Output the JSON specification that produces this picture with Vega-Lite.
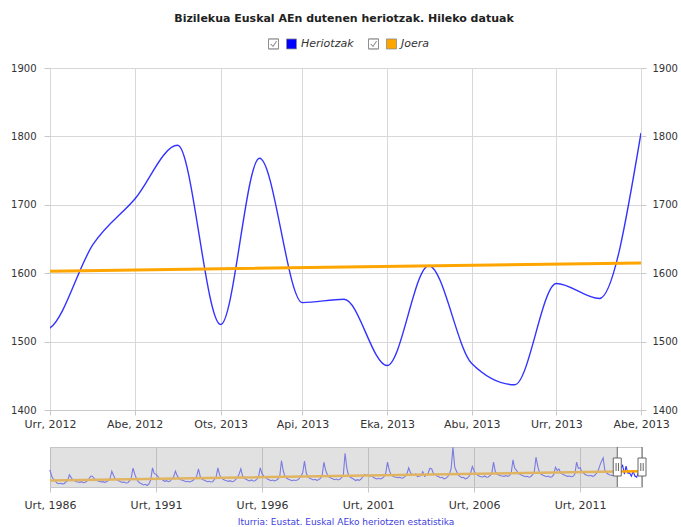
{
  "$schema": "https://vega.github.io/schema/vega-lite/v6.json",
  "padding": {"left": 10, "right": 4, "top": 13, "bottom": 2},
  "background": "white",
  "config": {
    "font": "DejaVu Sans",
    "view": {"stroke": null},
    "axis": {"labelFont": "DejaVu Sans", "labelFontSize": 11, "labelColor": "#333", "gridColor": "#d8d8d8", "domainColor": "#c8c8c8", "tickColor": "#c8c8c8", "title": null},
    "legend": {"layout": {"anchor": "middle"}},
    "concat": {"spacing": 15}
  },
  "title": {"text": "Bizilekua Euskal AEn dutenen heriotzak. Hileko datuak", "font": "DejaVu Sans", "fontSize": 11, "fontWeight": "bold", "color": "#222", "anchor": "middle", "offset": 14},
  "datasets": {
    "d": [
      {"t":"1986-01","v":1654},{"t":"1986-02","v":1450},{"t":"1986-03","v":1380},{"t":"1986-04","v":1320},{"t":"1986-05","v":1260},{"t":"1986-06","v":1240},{"t":"1986-07","v":1250},{"t":"1986-08","v":1234},{"t":"1986-09","v":1240},{"t":"1986-10","v":1290},{"t":"1986-11","v":1330},{"t":"1986-12","v":1504},
      {"t":"1987-01","v":1420},{"t":"1987-02","v":1340},{"t":"1987-03","v":1330},{"t":"1987-04","v":1300},{"t":"1987-05","v":1290},{"t":"1987-06","v":1280},{"t":"1987-07","v":1300},{"t":"1987-08","v":1270},{"t":"1987-09","v":1280},{"t":"1987-10","v":1320},{"t":"1987-11","v":1380},{"t":"1987-12","v":1464},
      {"t":"1988-01","v":1464},{"t":"1988-02","v":1400},{"t":"1988-03","v":1350},{"t":"1988-04","v":1320},{"t":"1988-05","v":1310},{"t":"1988-06","v":1290},{"t":"1988-07","v":1300},{"t":"1988-08","v":1280},{"t":"1988-09","v":1300},{"t":"1988-10","v":1330},{"t":"1988-11","v":1400},{"t":"1988-12","v":1614},
      {"t":"1989-01","v":1480},{"t":"1989-02","v":1380},{"t":"1989-03","v":1360},{"t":"1989-04","v":1330},{"t":"1989-05","v":1300},{"t":"1989-06","v":1280},{"t":"1989-07","v":1290},{"t":"1989-08","v":1260},{"t":"1989-09","v":1270},{"t":"1989-10","v":1320},{"t":"1989-11","v":1420},{"t":"1989-12","v":1704},
      {"t":"1990-01","v":1520},{"t":"1990-02","v":1380},{"t":"1990-03","v":1300},{"t":"1990-04","v":1260},{"t":"1990-05","v":1230},{"t":"1990-06","v":1200},{"t":"1990-07","v":1220},{"t":"1990-08","v":1184},{"t":"1990-09","v":1230},{"t":"1990-10","v":1350},{"t":"1990-11","v":1714},{"t":"1990-12","v":1540},
      {"t":"1991-01","v":1520},{"t":"1991-02","v":1460},{"t":"1991-03","v":1380},{"t":"1991-04","v":1390},{"t":"1991-05","v":1340},{"t":"1991-06","v":1310},{"t":"1991-07","v":1330},{"t":"1991-08","v":1300},{"t":"1991-09","v":1320},{"t":"1991-10","v":1380},{"t":"1991-11","v":1450},{"t":"1991-12","v":1614},
      {"t":"1992-01","v":1480},{"t":"1992-02","v":1400},{"t":"1992-03","v":1360},{"t":"1992-04","v":1340},{"t":"1992-05","v":1320},{"t":"1992-06","v":1300},{"t":"1992-07","v":1310},{"t":"1992-08","v":1290},{"t":"1992-09","v":1310},{"t":"1992-10","v":1340},{"t":"1992-11","v":1400},{"t":"1992-12","v":1460},
      {"t":"1993-01","v":1684},{"t":"1993-02","v":1450},{"t":"1993-03","v":1380},{"t":"1993-04","v":1350},{"t":"1993-05","v":1330},{"t":"1993-06","v":1300},{"t":"1993-07","v":1310},{"t":"1993-08","v":1290},{"t":"1993-09","v":1300},{"t":"1993-10","v":1360},{"t":"1993-11","v":1440},{"t":"1993-12","v":1714},
      {"t":"1994-01","v":1500},{"t":"1994-02","v":1410},{"t":"1994-03","v":1370},{"t":"1994-04","v":1340},{"t":"1994-05","v":1330},{"t":"1994-06","v":1310},{"t":"1994-07","v":1330},{"t":"1994-08","v":1300},{"t":"1994-09","v":1310},{"t":"1994-10","v":1360},{"t":"1994-11","v":1420},{"t":"1994-12","v":1520},
      {"t":"1995-01","v":1684},{"t":"1995-02","v":1460},{"t":"1995-03","v":1400},{"t":"1995-04","v":1370},{"t":"1995-05","v":1340},{"t":"1995-06","v":1320},{"t":"1995-07","v":1350},{"t":"1995-08","v":1320},{"t":"1995-09","v":1330},{"t":"1995-10","v":1370},{"t":"1995-11","v":1440},{"t":"1995-12","v":1714},
      {"t":"1996-01","v":1540},{"t":"1996-02","v":1460},{"t":"1996-03","v":1420},{"t":"1996-04","v":1380},{"t":"1996-05","v":1360},{"t":"1996-06","v":1330},{"t":"1996-07","v":1350},{"t":"1996-08","v":1320},{"t":"1996-09","v":1340},{"t":"1996-10","v":1380},{"t":"1996-11","v":1460},{"t":"1996-12","v":1934},
      {"t":"1997-01","v":1620},{"t":"1997-02","v":1450},{"t":"1997-03","v":1400},{"t":"1997-04","v":1370},{"t":"1997-05","v":1350},{"t":"1997-06","v":1330},{"t":"1997-07","v":1350},{"t":"1997-08","v":1334},{"t":"1997-09","v":1350},{"t":"1997-10","v":1390},{"t":"1997-11","v":1470},{"t":"1997-12","v":1560},
      {"t":"1998-01","v":1914},{"t":"1998-02","v":1560},{"t":"1998-03","v":1440},{"t":"1998-04","v":1400},{"t":"1998-05","v":1380},{"t":"1998-06","v":1350},{"t":"1998-07","v":1370},{"t":"1998-08","v":1340},{"t":"1998-09","v":1360},{"t":"1998-10","v":1400},{"t":"1998-11","v":1480},{"t":"1998-12","v":1884},
      {"t":"1999-01","v":1640},{"t":"1999-02","v":1500},{"t":"1999-03","v":1440},{"t":"1999-04","v":1410},{"t":"1999-05","v":1390},{"t":"1999-06","v":1360},{"t":"1999-07","v":1380},{"t":"1999-08","v":1350},{"t":"1999-09","v":1370},{"t":"1999-10","v":1420},{"t":"1999-11","v":1500},{"t":"1999-12","v":2154},
      {"t":"2000-01","v":1700},{"t":"2000-02","v":1480},{"t":"2000-03","v":1430},{"t":"2000-04","v":1400},{"t":"2000-05","v":1370},{"t":"2000-06","v":1334},{"t":"2000-07","v":1360},{"t":"2000-08","v":1340},{"t":"2000-09","v":1380},{"t":"2000-10","v":1440},{"t":"2000-11","v":1514},{"t":"2000-12","v":1490},
      {"t":"2001-01","v":1514},{"t":"2001-02","v":1460},{"t":"2001-03","v":1480},{"t":"2001-04","v":1430},{"t":"2001-05","v":1400},{"t":"2001-06","v":1380},{"t":"2001-07","v":1400},{"t":"2001-08","v":1380},{"t":"2001-09","v":1400},{"t":"2001-10","v":1450},{"t":"2001-11","v":1560},{"t":"2001-12","v":1884},
      {"t":"2002-01","v":1640},{"t":"2002-02","v":1500},{"t":"2002-03","v":1470},{"t":"2002-04","v":1440},{"t":"2002-05","v":1430},{"t":"2002-06","v":1420},{"t":"2002-07","v":1430},{"t":"2002-08","v":1404},{"t":"2002-09","v":1420},{"t":"2002-10","v":1460},{"t":"2002-11","v":1540},{"t":"2002-12","v":1714},
      {"t":"2003-01","v":1560},{"t":"2003-02","v":1520},{"t":"2003-03","v":1490},{"t":"2003-04","v":1534},{"t":"2003-05","v":1450},{"t":"2003-06","v":1470},{"t":"2003-07","v":1480},{"t":"2003-08","v":1600},{"t":"2003-09","v":1460},{"t":"2003-10","v":1500},{"t":"2003-11","v":1560},{"t":"2003-12","v":1704},
      {"t":"2004-01","v":1680},{"t":"2004-02","v":1540},{"t":"2004-03","v":1520},{"t":"2004-04","v":1470},{"t":"2004-05","v":1450},{"t":"2004-06","v":1420},{"t":"2004-07","v":1430},{"t":"2004-08","v":1384},{"t":"2004-09","v":1400},{"t":"2004-10","v":1450},{"t":"2004-11","v":1520},{"t":"2004-12","v":1700},
      {"t":"2005-01","v":2330},{"t":"2005-02","v":1734},{"t":"2005-03","v":1620},{"t":"2005-04","v":1500},{"t":"2005-05","v":1460},{"t":"2005-06","v":1420},{"t":"2005-07","v":1430},{"t":"2005-08","v":1384},{"t":"2005-09","v":1400},{"t":"2005-10","v":1450},{"t":"2005-11","v":1560},{"t":"2005-12","v":1754},
      {"t":"2006-01","v":1620},{"t":"2006-02","v":1520},{"t":"2006-03","v":1500},{"t":"2006-04","v":1460},{"t":"2006-05","v":1450},{"t":"2006-06","v":1440},{"t":"2006-07","v":1470},{"t":"2006-08","v":1434},{"t":"2006-09","v":1440},{"t":"2006-10","v":1480},{"t":"2006-11","v":1540},{"t":"2006-12","v":1884},
      {"t":"2007-01","v":1600},{"t":"2007-02","v":1520},{"t":"2007-03","v":1500},{"t":"2007-04","v":1480},{"t":"2007-05","v":1470},{"t":"2007-06","v":1460},{"t":"2007-07","v":1484},{"t":"2007-08","v":1460},{"t":"2007-09","v":1480},{"t":"2007-10","v":1560},{"t":"2007-11","v":1954},{"t":"2007-12","v":1700},
      {"t":"2008-01","v":1640},{"t":"2008-02","v":1540},{"t":"2008-03","v":1520},{"t":"2008-04","v":1490},{"t":"2008-05","v":1470},{"t":"2008-06","v":1450},{"t":"2008-07","v":1460},{"t":"2008-08","v":1434},{"t":"2008-09","v":1450},{"t":"2008-10","v":1500},{"t":"2008-11","v":1580},{"t":"2008-12","v":2034},
      {"t":"2009-01","v":1760},{"t":"2009-02","v":1560},{"t":"2009-03","v":1520},{"t":"2009-04","v":1490},{"t":"2009-05","v":1470},{"t":"2009-06","v":1450},{"t":"2009-07","v":1470},{"t":"2009-08","v":1434},{"t":"2009-09","v":1450},{"t":"2009-10","v":1500},{"t":"2009-11","v":1734},{"t":"2009-12","v":1640},
      {"t":"2010-01","v":1680},{"t":"2010-02","v":1560},{"t":"2010-03","v":1530},{"t":"2010-04","v":1500},{"t":"2010-05","v":1480},{"t":"2010-06","v":1460},{"t":"2010-07","v":1470},{"t":"2010-08","v":1450},{"t":"2010-09","v":1460},{"t":"2010-10","v":1520},{"t":"2010-11","v":1884},{"t":"2010-12","v":1700},
      {"t":"2011-01","v":1720},{"t":"2011-02","v":1580},{"t":"2011-03","v":1560},{"t":"2011-04","v":1510},{"t":"2011-05","v":1490},{"t":"2011-06","v":1470},{"t":"2011-07","v":1490},{"t":"2011-08","v":1460},{"t":"2011-09","v":1480},{"t":"2011-10","v":1530},{"t":"2011-11","v":1600},{"t":"2011-12","v":1760},
      {"t":"2012-01","v":1900},{"t":"2012-02","v":2014},{"t":"2012-03","v":1640},{"t":"2012-04","v":1560},{"t":"2012-05","v":1520},{"t":"2012-06","v":1500},{"t":"2012-07","v":1484},{"t":"2012-08","v":1490},{"t":"2012-09","v":1500},{"t":"2012-10","v":1520},{"t":"2012-11","v":1642},{"t":"2012-12","v":1708},
      {"t":"2013-01","v":1787},{"t":"2013-02","v":1525},{"t":"2013-03","v":1768},{"t":"2013-04","v":1557},{"t":"2013-05","v":1562},{"t":"2013-06","v":1465},{"t":"2013-07","v":1611},{"t":"2013-08","v":1468},{"t":"2013-09","v":1437},{"t":"2013-10","v":1585},{"t":"2013-11","v":1563},{"t":"2013-12","v":1805}
    ],
    "tr": [
      {"t":"1986-01","v":1335},
      {"t":"2012-10","v":1603},
      {"t":"2013-12","v":1615}
    ],
    "leg": [{"k":"Heriotzak"},{"k":"Joera"}],
    "mask": [{"s":"1986-01","e":"2012-10"}],
    "sel": [{"t":"2012-10"},{"t":"2013-12"}]
  },
  "vconcat": [
    {
      "width": 591,
      "height": 342,
      "layer": [
        {
          "data": {"name": "d"},
          "mark": {"type": "line", "interpolate": "monotone", "clip": true, "strokeWidth": 1.4, "opacity": 0.8, "color": "#0000ff"},
          "encoding": {
            "x": {
              "field": "t", "type": "temporal",
              "scale": {"type": "utc", "domain": [{"year": 2012, "month": 10, "date": 1, "utc": true}, {"year": 2013, "month": 12, "date": 1, "utc": true}]},
              "axis": {
                "values": [
                  {"year": 2012, "month": 10, "date": 1, "utc": true},
                  {"year": 2012, "month": 12, "date": 1, "utc": true},
                  {"year": 2013, "month": 2, "date": 1, "utc": true},
                  {"year": 2013, "month": 4, "date": 1, "utc": true},
                  {"year": 2013, "month": 6, "date": 1, "utc": true},
                  {"year": 2013, "month": 8, "date": 1, "utc": true},
                  {"year": 2013, "month": 10, "date": 1, "utc": true},
                  {"year": 2013, "month": 12, "date": 1, "utc": true}
                ],
                "labelExpr": "['Urt','Ots','Mar','Api','Mai','Eka','Uzt','Abu','Ira','Urr','Aza','Abe'][utcmonth(datum.value)] + ', ' + utcyear(datum.value)",
                "grid": true, "tickSize": 5, "labelPadding": 3, "labelOverlap": false, "labelFlush": false, "labelBound": false
              }
            },
            "y": {
              "field": "v", "type": "quantitative",
              "scale": {"domain": [1400, 1900], "nice": false, "zero": false},
              "axis": {"orient": "left", "values": [1400, 1500, 1600, 1700, 1800, 1900], "format": "d", "labelFontSize": 10, "grid": true, "domain": false, "tickSize": 6, "labelPadding": 8}
            }
          }
        },
        {
          "data": {"name": "tr"},
          "mark": {"type": "line", "clip": true, "strokeWidth": 3, "color": "#ffa500"},
          "encoding": {
            "x": {"field": "t", "type": "temporal"},
            "y": {
              "field": "v", "type": "quantitative",
              "scale": {"domain": [1400, 1900], "nice": false, "zero": false},
              "axis": {"orient": "right", "values": [1400, 1500, 1600, 1700, 1800, 1900], "format": "d", "labelFontSize": 10, "grid": false, "domain": false, "tickSize": 5, "labelPadding": 6}
            }
          }
        },
        {
          "data": {"name": "leg"},
          "transform": [{"filter": "false"}],
          "mark": {"type": "square", "filled": true, "opacity": 1, "stroke": "#8c8c8c", "strokeWidth": 0.8},
          "encoding": {
            "color": {
              "field": "k", "type": "nominal",
              "scale": {"domain": ["Heriotzak", "Joera"], "range": ["#0000ff", "#ffa500"]},
              "legend": {
                "orient": "top", "direction": "horizontal", "title": " ", "titleOrient": "left", "titlePadding": 10,
                "symbolType": "M-1,-1L1,-1L1,1L-1,1Z M-4.6,-1L-2.6,-1L-2.6,1L-4.6,1L-4.6,-1L-4.6,1L-2.6,1L-2.6,-1L-4.6,-1 M-4.15,0L-3.7,0.5L-3.0,-0.55L-3.7,0.5L-4.15,0",
                "symbolSize": 100, "symbolOffset": 18, "symbolStrokeColor": "#8c8c8c", "symbolStrokeWidth": 0.8,
                "labelFontStyle": "italic", "labelFontSize": 11, "labelColor": "#333", "columnPadding": 12, "labelOffset": 4, "offset": 12
              }
            }
          }
        }
      ],
      "resolve": {"scale": {"y": "independent"}}
    },
    {
      "width": 592,
      "height": 40,
      "view": {"stroke": "#c8c8c8"},
      "title": {"text": "Iturria: Eustat. Euskal AEko heriotzen estatistika", "orient": "bottom", "anchor": "middle", "fontSize": 9, "fontWeight": "normal", "color": "#4040e0", "offset": 8},
      "layer": [
        {
          "data": {"name": "d"},
          "mark": {"type": "line", "strokeWidth": 1.1, "color": "#3333ff"},
          "encoding": {
            "x": {
              "field": "t", "type": "temporal",
              "scale": {"type": "utc", "domain": [{"year": 1986, "month": 1, "date": 1, "utc": true}, {"year": 2013, "month": 12, "date": 1, "utc": true}]},
              "axis": {
                "values": [
                  {"year": 1986, "month": 1, "date": 1, "utc": true},
                  {"year": 1991, "month": 1, "date": 1, "utc": true},
                  {"year": 1996, "month": 1, "date": 1, "utc": true},
                  {"year": 2001, "month": 1, "date": 1, "utc": true},
                  {"year": 2006, "month": 1, "date": 1, "utc": true},
                  {"year": 2011, "month": 1, "date": 1, "utc": true}
                ],
                "labelExpr": "['Urt','Ots','Mar','Api','Mai','Eka','Uzt','Abu','Ira','Urr','Aza','Abe'][utcmonth(datum.value)] + ', ' + utcyear(datum.value)",
                "grid": true, "gridColor": "#b8b8b8", "domain": false, "tickSize": 5, "labelPadding": 7, "labelOverlap": false, "labelFlush": false, "labelBound": false
              }
            },
            "y": {"field": "v", "type": "quantitative", "scale": {"domain": [1140, 2340], "nice": false, "zero": false}, "axis": null}
          }
        },
        {
          "data": {"name": "tr"},
          "mark": {"type": "line", "strokeWidth": 2.5, "color": "#ffa500"},
          "encoding": {
            "x": {"field": "t", "type": "temporal"},
            "y": {"field": "v", "type": "quantitative"}
          }
        },
        {
          "data": {"name": "mask"},
          "mark": {"type": "rect", "color": "#c4c4c4", "opacity": 0.5},
          "encoding": {
            "x": {"field": "s", "type": "temporal"},
            "x2": {"field": "e"}
          }
        },
        {
          "data": {"name": "sel"},
          "mark": {"type": "rule", "color": "#666666", "strokeWidth": 1},
          "encoding": {"x": {"field": "t", "type": "temporal"}}
        },
        {
          "data": {"name": "sel"},
          "mark": {"type": "point", "shape": "M-0.4,-0.9L0.4,-0.9L0.4,0.9L-0.4,0.9Z M-0.12,-0.4L-0.12,0.4 M0.12,-0.4L0.12,0.4", "size": 400, "filled": true, "fill": "white", "stroke": "#666666", "strokeWidth": 1, "opacity": 1},
          "encoding": {
            "x": {"field": "t", "type": "temporal"},
            "y": {"datum": 1740, "type": "quantitative"}
          }
        }
      ]
    }
  ]
}
